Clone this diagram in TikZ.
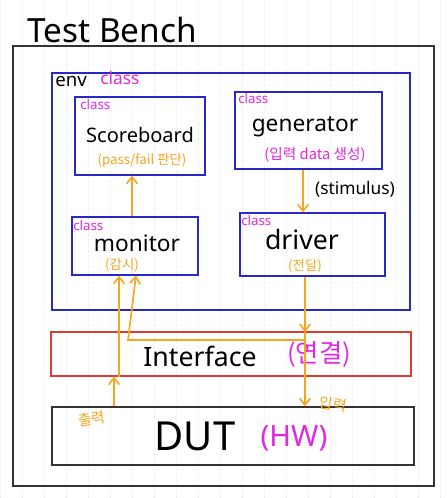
\documentclass[tikz,border=0pt]{standalone}
\usepackage{fontspec}
\setmainfont{Noto Sans}
\newfontfamily\kr{Noto Sans CJK KR}
\usetikzlibrary{fit,arrows.meta}
\definecolor{orng}{RGB}{245,165,30}
\definecolor{mgnt}{RGB}{225,40,225}
\definecolor{bluebox}{RGB}{40,40,200}
\definecolor{redbox}{RGB}{220,60,50}
\begin{document}
\begin{tikzpicture}[x=0.75pt,y=-0.75pt,
  blk/.style={draw=black!80,line width=1pt,inner sep=0pt},
  bbox/.style={draw=bluebox,line width=1pt,inner sep=0pt},
  rbox/.style={draw=redbox,line width=1pt,inner sep=0pt},
  cls/.style={text=mgnt,font=\fontsize{10}{10}\selectfont,inner sep=0pt},
  lbl/.style={text=black,inner sep=0pt},
  note/.style={font=\kr\fontsize{10}{10}\selectfont,inner sep=0pt},
  arr/.style={draw=orng,line width=1.2pt,-{Straight Barb[length=5pt,width=8pt]}},
  ln/.style={draw=orng,line width=1.2pt}]
\useasboundingbox (0,0) rectangle (446,498);
\fill[white] (0,0) rectangle (446,498);
\draw[gray!15,dash pattern=on 2pt off 2pt] (0,0) grid[step=22] (446,498);
% title
\node[lbl,font=\fontsize{25}{25}\selectfont] (title) at (112,30) {Test Bench};
% boxes
\node[blk,fit={(13,46) (434,486)}] (tb) {};
\node[bbox,fit={(52,73) (410,310)}] (env) {};
\node[bbox,fit={(75,97) (205,175)}] (sb) {};
\node[bbox,fit={(235,92) (382,169)}] (gen) {};
\node[bbox,fit={(72,217) (198,275)}] (mon) {};
\node[bbox,fit={(240,213) (385,276)}] (drv) {};
\node[rbox,fit={(51,332) (411,376)}] (ifc) {};
\node[blk,fit={(52,407) (414,465)}] (dut) {};
% env labels
\node[lbl,font=\fontsize{14}{14}\selectfont,anchor=west] (envt) at (55,82) {env};
\node[cls,font=\fontsize{13}{13}\selectfont,anchor=west] (envc) at (100,78) {class};
% class labels
\node[cls,anchor=west] (c1) at (80,105) {class};
\node[cls,anchor=west] (c2) at (238,99) {class};
\node[cls,anchor=west] (c3) at (73,226) {class};
\node[cls,anchor=west] (c4) at (241,221) {class};
% names
\node[lbl,font=\fontsize{15}{15}\selectfont] (sbt) at (140,135) {Scoreboard};
\node[note,text=orng] (sbn) at (142,161) {(pass/fail 판단)};
\node[lbl,font=\fontsize{17}{17}\selectfont] (gent) at (305,127) {generator};
\node[note,text=mgnt,font=\kr\fontsize{11}{11}\selectfont] (genn) at (315,155) {(입력 data 생성)};
\node[lbl,font=\fontsize{13}{13}\selectfont] (stim) at (355,189) {(stimulus)};
\node[lbl,font=\fontsize{17}{17}\selectfont] (mont) at (137,243) {monitor};
\node[note,text=orng] (monn) at (122,265) {(감시)};
\node[lbl,font=\fontsize{20}{20}\selectfont] (drvt) at (302,240) {driver};
\node[note,text=orng] (drvn) at (305,266) {(전달)};
\node[lbl,font=\fontsize{20}{20}\selectfont] (ifct) at (200,356) {Interface};
\node[note,text=mgnt,font=\kr\fontsize{19}{19}\selectfont] (ifcn) at (319,355) {(연결)};
\node[lbl,font=\fontsize{30}{30}\selectfont] (dutt) at (195,436) {DUT};
\node[lbl,text=mgnt,font=\fontsize{22}{22}\selectfont] (dutn) at (294,438) {(HW)};
\node[note,text=orng,font=\kr\fontsize{11}{11}\selectfont,rotate=10] (outl) at (92,419) {출력};
\node[note,text=orng,font=\kr\fontsize{11}{11}\selectfont,rotate=-10] (inl) at (333,404) {입력};
% helper x positions
\coordinate (xa) at (132,0);
\coordinate (xb) at (303,0);
\coordinate (xc) at (114,0);
\coordinate (xd) at (119,0);
\coordinate (xe) at (128,0);
\coordinate (xf) at (136,0);
\coordinate (xg) at (305,0);
\coordinate (yh) at (0,340);
\coordinate (yk) at (0,332);
\coordinate (jn) at (305,340);
% connectors
\draw[arr] (gen.south -| xb) -- (drv.north -| xb);
\draw[arr] (mon.north -| xa) -- (sb.south -| xa);
\draw[arr] (dut.north -| xc) -- (ifc.south -| xc);
\draw[arr] (ifc.south -| xd) -- (mon.south -| xd);
\draw[arr] (jn) -- (yh -| xe) -- (mon.south -| xf);
\draw[arr] (drv.south -| xg) -- (yk -| xg);
\draw[arr] (yk -| xg) -- (dut.north -| xg);
\end{tikzpicture}
\end{document}
